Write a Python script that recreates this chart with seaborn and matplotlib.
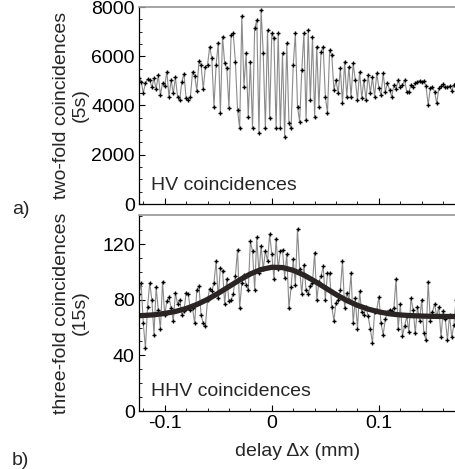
import numpy as np
import pandas as pd
import matplotlib
matplotlib.use('Agg')
import matplotlib.pyplot as plt
from matplotlib.ticker import MultipleLocator
import seaborn as sns

# delay scan grid (mm)
delay_start = -0.124
delay_step = 0.002

# two-fold coincidences (5s)
two_fold = [5100, 4970, 4520, 4900, 5060, 5030, 4740, 5100, 4660, 5240,
            4430, 4900, 4790, 5370, 4360, 5030, 4490, 5140, 4360, 4220,
            4970, 5280, 4290, 4220, 4360, 5370, 5200, 4600, 5800, 5640,
            4660, 5580, 5640, 6390, 5910, 3950, 5640, 6550, 3680, 6800,
            5710, 5510, 3880, 6860, 6930, 5780, 3820, 3070, 7630, 4760,
            6120, 3550, 5780, 3070, 7130, 7470, 2870, 7880, 6120, 3070,
            7060, 3480, 6930, 6730, 3070, 6930, 3070, 6120, 2730, 6520,
            3280, 3070, 5640, 6930, 3950, 3340, 5440, 6930, 3410, 7060,
            4220, 6800, 3550, 6390, 3950, 6180, 6390, 4360, 3680, 6250,
            6050, 4630, 5030, 4490, 5510, 4090, 5780, 4360, 5580, 4360,
            5710, 5030, 4220, 5370, 4290, 5030, 4220, 5240, 4490, 5140,
            4360, 5310, 4700, 4430, 5310, 4560, 4900, 4630, 4360, 4830,
            4660, 5030, 4740, 4830, 5030, 4560, 4560, 4830, 4740, 4900,
            4970, 5010, 4970, 5000, 4790, 4020, 4700, 4760, 4560, 4090,
            4700, 4790, 4870, 4740, 4740, 4790, 4600, 4830, 4900]

# three-fold coincidences (15s)
three_fold = [84, 92, 63, 45, 75, 92, 80, 55, 89, 73,
              59, 93, 69, 79, 82, 74, 65, 85, 77, 80,
              69, 72, 85, 84, 73, 74, 63, 87, 90, 69,
              63, 61, 80, 88, 86, 92, 108, 81, 103, 101,
              77, 95, 79, 80, 84, 97, 116, 74, 92, 98,
              91, 87, 122, 115, 87, 125, 99, 119, 102, 115,
              108, 127, 113, 95, 124, 102, 115, 116, 96, 113,
              74, 89, 109, 91, 131, 102, 84, 105, 87, 84,
              90, 92, 114, 80, 93, 97, 104, 80, 99, 99,
              75, 65, 78, 80, 87, 108, 74, 85, 80, 99,
              63, 81, 59, 86, 71, 69, 75, 68, 59, 49,
              71, 73, 82, 63, 55, 66, 71, 73, 72, 74,
              95, 59, 77, 54, 61, 68, 57, 81, 73, 56,
              75, 65, 80, 56, 51, 93, 65, 71, 77, 68,
              75, 53, 72, 66, 51, 69, 53, 62, 80]

# fitted curve for the three-fold data
fit_x = [-0.13, -0.12, -0.11, -0.10, -0.09, -0.08, -0.07, -0.06, -0.05, -0.04,
         -0.03, -0.02, -0.01, 0.00, 0.01, 0.02, 0.03, 0.04, 0.05, 0.06,
         0.07, 0.08, 0.09, 0.10, 0.11, 0.12, 0.13, 0.14, 0.15, 0.16, 0.17, 0.18]
fit_y = [68.4, 68.7, 69.2, 70.2, 71.6, 73.7, 76.6, 80.3, 84.7, 89.5,
         94.3, 98.6, 101.8, 103.4, 103.2, 101.2, 97.8, 93.4, 88.6, 83.8,
         79.5, 76.0, 73.3, 71.3, 69.9, 69.1, 68.6, 68.3, 68.1, 68.0, 68.0, 68.0]

delay = delay_start + delay_step * np.arange(len(two_fold))
df = pd.DataFrame({'delay': delay, 'two': two_fold, 'three': three_fold})
fit_df = pd.DataFrame({'delay': fit_x, 'fit': fit_y})

sns.set_theme(style='ticks')
plt.rcParams['font.family'] = ['Liberation Sans', 'DejaVu Sans']
plt.rcParams['font.size'] = 14

fig = plt.figure(figsize=(4.56, 4.69), dpi=100)
W, H = 456, 469
ax1 = fig.add_axes([139 / W, 1 - 204 / H, 1 - 139 / W, 197 / H])
ax2 = fig.add_axes([139 / W, 1 - 411 / H, 1 - 139 / W, 196 / H])

pts = dict(color='#8a8a8a', linewidth=0.8, marker='+', markersize=3,
           markeredgecolor='black', markeredgewidth=1.0)

sns.lineplot(data=df, x='delay', y='two', ax=ax1, sort=False, estimator=None, **pts)
sns.lineplot(data=df, x='delay', y='three', ax=ax2, sort=False, estimator=None, **pts)
sns.lineplot(data=fit_df, x='delay', y='fit', ax=ax2, sort=False, estimator=None,
             color='#2b2424', linewidth=3.8)

for ax in (ax1, ax2):
    ax.set_xlim(-0.124, 0.172)
    ax.xaxis.set_major_locator(MultipleLocator(0.1))
    ax.xaxis.set_minor_locator(MultipleLocator(0.02))
    ax.tick_params(which='both', direction='in', labelsize=14, colors='black', pad=3)
    ax.tick_params(which='major', length=4, width=0.8)
    ax.tick_params(which='minor', length=2, width=0.6)
    ax.spines['right'].set_visible(False)
    ax.spines['top'].set_color('#999999')
    ax.spines['left'].set_color('black')
    ax.spines['bottom'].set_color('black')
    ax.spines['left'].set_linewidth(0.9)
    ax.spines['bottom'].set_linewidth(0.9)
    ax.set_xlabel('')

ax1.set_ylim(0, 8000)
ax1.yaxis.set_major_locator(MultipleLocator(2000))
ax1.yaxis.set_minor_locator(MultipleLocator(500))
ax1.tick_params(axis='x', labelbottom=False)
ax1.set_ylabel('two-fold coincidences\n(5s)', fontsize=14, linespacing=1.15)
ax1.yaxis.set_label_coords(-0.157, 0.5)
ax1.text(0.038, 0.095, 'HV coincidences', transform=ax1.transAxes,
         fontsize=14, va='center', ha='left')

ax2.set_ylim(0, 141)
ax2.yaxis.set_major_locator(MultipleLocator(40))
ax2.yaxis.set_minor_locator(MultipleLocator(10))
ax2.set_ylabel('three-fold coincidences\n(15s)', fontsize=14, linespacing=1.15)
ax2.yaxis.set_label_coords(-0.157, 0.5)
ax2.set_xlabel('delay \u0394x (mm)', fontsize=14, labelpad=8)
ax2.text(0.038, 0.097, 'HHV coincidences', transform=ax2.transAxes,
         fontsize=14, va='center', ha='left')
ax2.set_xticks([-0.1, 0, 0.1])
ax2.set_xticklabels(['-0.1', '0', '0.1'])

fig.text(12 / W, 1 - 210 / H, 'a)', fontsize=14, va='center', ha='left')
fig.text(12 / W, 1 - 460 / H, 'b)', fontsize=14, va='center', ha='left')

fig.savefig('out.png', dpi=100)
